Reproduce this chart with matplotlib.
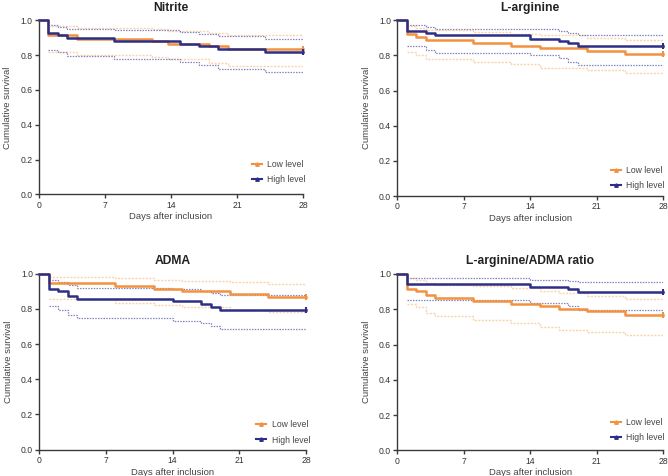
import matplotlib
matplotlib.use('Agg')
import matplotlib.pyplot as plt
from matplotlib.lines import Line2D
from matplotlib.ticker import FormatStrFormatter

plt.rcParams['font.family'] = ['Liberation Sans', 'DejaVu Sans']

titles = ['Nitrite', 'L-arginine', 'ADMA', 'L-arginine/ADMA ratio']
legend_labels = ['Low level', 'High level']
x_label = 'Days after inclusion'
y_label = 'Cumulative survival'
x_ticks = [0, 7, 14, 21, 28]
y_ticks = [0.0, 0.2, 0.4, 0.6, 0.8, 1.0]

# ---- Nitrite ----
nitrite_low_t = [0, 1, 4, 12, 13.7, 18, 20, 28]
nitrite_low_s = [1.0, 0.915, 0.893, 0.882, 0.866, 0.851, 0.835, 0.835]
nitrite_low_up = [0.970, 0.955, 0.950, 0.940, 0.930, 0.918, 0.905]
nitrite_low_lo = [0.820, 0.800, 0.790, 0.775, 0.755, 0.735, 0.718]
nitrite_high_t = [0, 1, 2, 3, 8, 15, 17, 19, 24, 28]
nitrite_high_s = [1.0, 0.925, 0.913, 0.898, 0.883, 0.866, 0.851, 0.835, 0.820, 0.820]
nitrite_high_up = [0.973, 0.964, 0.948, 0.943, 0.931, 0.920, 0.910, 0.895, 0.895]
nitrite_high_lo = [0.829, 0.816, 0.795, 0.776, 0.759, 0.741, 0.720, 0.703, 0.703]

# ---- L-arginine ----
larg_low_t = [0, 1, 2, 3, 8, 12, 15, 20, 24, 28]
larg_low_s = [1.0, 0.921, 0.905, 0.889, 0.872, 0.856, 0.840, 0.825, 0.810, 0.810]
larg_low_up = [0.965, 0.955, 0.945, 0.935, 0.925, 0.915, 0.900, 0.890, 0.885]
larg_low_lo = [0.820, 0.800, 0.780, 0.765, 0.750, 0.730, 0.715, 0.700, 0.695]
larg_high_t = [0, 1, 3, 4, 14, 17, 18, 19, 28]
larg_high_s = [1.0, 0.941, 0.930, 0.915, 0.896, 0.884, 0.869, 0.852, 0.852]
larg_high_up = [0.973, 0.964, 0.951, 0.948, 0.937, 0.930, 0.918, 0.918]
larg_high_lo = [0.852, 0.831, 0.814, 0.800, 0.785, 0.765, 0.745, 0.745]

# ---- ADMA ----
adma_low_t = [0, 1, 8, 12, 15, 20, 24, 28]
adma_low_s = [1.0, 0.947, 0.928, 0.915, 0.900, 0.884, 0.869, 0.869]
adma_low_up = [0.982, 0.975, 0.967, 0.958, 0.950, 0.940, 0.930]
adma_low_lo = [0.855, 0.835, 0.820, 0.810, 0.795, 0.780, 0.765]
adma_high_t = [0, 1, 2, 3, 4, 14, 17, 18, 19, 28]
adma_high_s = [1.0, 0.914, 0.900, 0.871, 0.855, 0.844, 0.828, 0.812, 0.795, 0.795]
adma_high_up = [0.965, 0.955, 0.935, 0.920, 0.912, 0.903, 0.893, 0.878, 0.878]
adma_high_lo = [0.815, 0.795, 0.767, 0.748, 0.733, 0.718, 0.703, 0.685, 0.685]

# ---- L-arginine/ADMA ratio ----
ratio_low_t = [0, 1, 2, 3, 4, 8, 12, 15, 17, 20, 24, 28]
ratio_low_s = [1.0, 0.917, 0.902, 0.880, 0.862, 0.847, 0.832, 0.817, 0.803, 0.788, 0.768, 0.768]
ratio_low_up = [0.975, 0.965, 0.950, 0.940, 0.930, 0.920, 0.905, 0.890, 0.875, 0.860, 0.855]
ratio_low_lo = [0.830, 0.810, 0.780, 0.760, 0.740, 0.720, 0.700, 0.685, 0.670, 0.655, 0.650]
ratio_high_t = [0, 1, 14, 18, 19, 28]
ratio_high_s = [1.0, 0.943, 0.928, 0.913, 0.900, 0.900]
ratio_high_up = [0.977, 0.968, 0.960, 0.955, 0.955]
ratio_high_lo = [0.851, 0.836, 0.817, 0.798, 0.798]

panels = [
    (nitrite_low_t, nitrite_low_s, nitrite_low_up, nitrite_low_lo,
     nitrite_high_t, nitrite_high_s, nitrite_high_up, nitrite_high_lo),
    (larg_low_t, larg_low_s, larg_low_up, larg_low_lo,
     larg_high_t, larg_high_s, larg_high_up, larg_high_lo),
    (adma_low_t, adma_low_s, adma_low_up, adma_low_lo,
     adma_high_t, adma_high_s, adma_high_up, adma_high_lo),
    (ratio_low_t, ratio_low_s, ratio_low_up, ratio_low_lo,
     ratio_high_t, ratio_high_s, ratio_high_up, ratio_high_lo),
]

positions = [
    [0.0584, 0.5918, 0.3952, 0.3655],
    [0.5948, 0.5882, 0.3982, 0.3691],
    [0.0588, 0.0553, 0.3992, 0.3697],
    [0.5948, 0.0540, 0.3982, 0.3704],
]
legend_anchor = [(1.03, 0.03), (1.025, 0.005), (1.035, 0.0), (1.025, 0.015)]

blue = '#2c2f85'
orange = '#f39140'
blue_ci = '#8386bd'
orange_ci = '#fbd3ad'
spine_c = '#3a3a3a'

fig = plt.figure(figsize=(6.68, 4.76), dpi=100)

for i, (title, data) in enumerate(zip(titles, panels)):
    lt, ls, lu, ll, ht, hs, hu, hl = data
    ax = fig.add_axes(positions[i])
    # confidence bands
    ax.step(lt[1:], lu, where='post', color=orange_ci, lw=1.0, ls=(0, (1.5, 1)), zorder=1)
    ax.step(lt[1:], ll, where='post', color=orange_ci, lw=1.0, ls=(0, (1.5, 1)), zorder=1)
    ax.step(ht[1:], hu, where='post', color=blue_ci, lw=0.9, ls=(0, (1.2, 1)), zorder=2)
    ax.step(ht[1:], hl, where='post', color=blue_ci, lw=0.9, ls=(0, (1.2, 1)), zorder=2)
    # survival curves
    ax.step(lt, ls, where='post', color=orange, lw=1.8, zorder=3, clip_on=False)
    ax.step(ht, hs, where='post', color=blue, lw=1.8, zorder=4, clip_on=False)
    ax.plot([lt[-1]], [ls[-1]], marker='|', color=orange, ms=4, mew=1.5, zorder=3, clip_on=False)
    ax.plot([ht[-1]], [hs[-1]], marker='|', color=blue, ms=4, mew=1.5, zorder=4, clip_on=False)

    ax.set_xlim(0, 28)
    ax.set_ylim(0, 1.0)
    ax.set_xticks(x_ticks)
    ax.set_yticks(y_ticks)
    ax.yaxis.set_major_formatter(FormatStrFormatter('%.1f'))
    for s in ['top', 'right']:
        ax.spines[s].set_visible(False)
    for s in ['left', 'bottom']:
        ax.spines[s].set_color(spine_c)
        ax.spines[s].set_linewidth(1.0)
    ax.tick_params(direction='out', length=3, width=1.0, color=spine_c,
                   labelsize=6.2, labelcolor='#333333', pad=1.5)
    ax.set_title(title, fontsize=8.7, fontweight='bold', color='#222222', pad=7)
    ax.set_xlabel(x_label, fontsize=6.8, color='#444444', labelpad=2)
    ax.set_ylabel(y_label, fontsize=6.8, color='#444444', labelpad=6)

    handles = [
        Line2D([0], [0], color=orange, lw=1.5, marker='^', ms=2.5),
        Line2D([0], [0], color=blue, lw=1.5, marker='^', ms=2.5),
    ]
    ax.legend(handles, legend_labels, loc='lower right', bbox_to_anchor=legend_anchor[i],
              frameon=False, fontsize=6.2, handlelength=1.2, handletextpad=0.6,
              labelspacing=0.7, labelcolor='#444444', borderaxespad=0.2)

fig.savefig('out.png', dpi=100)
